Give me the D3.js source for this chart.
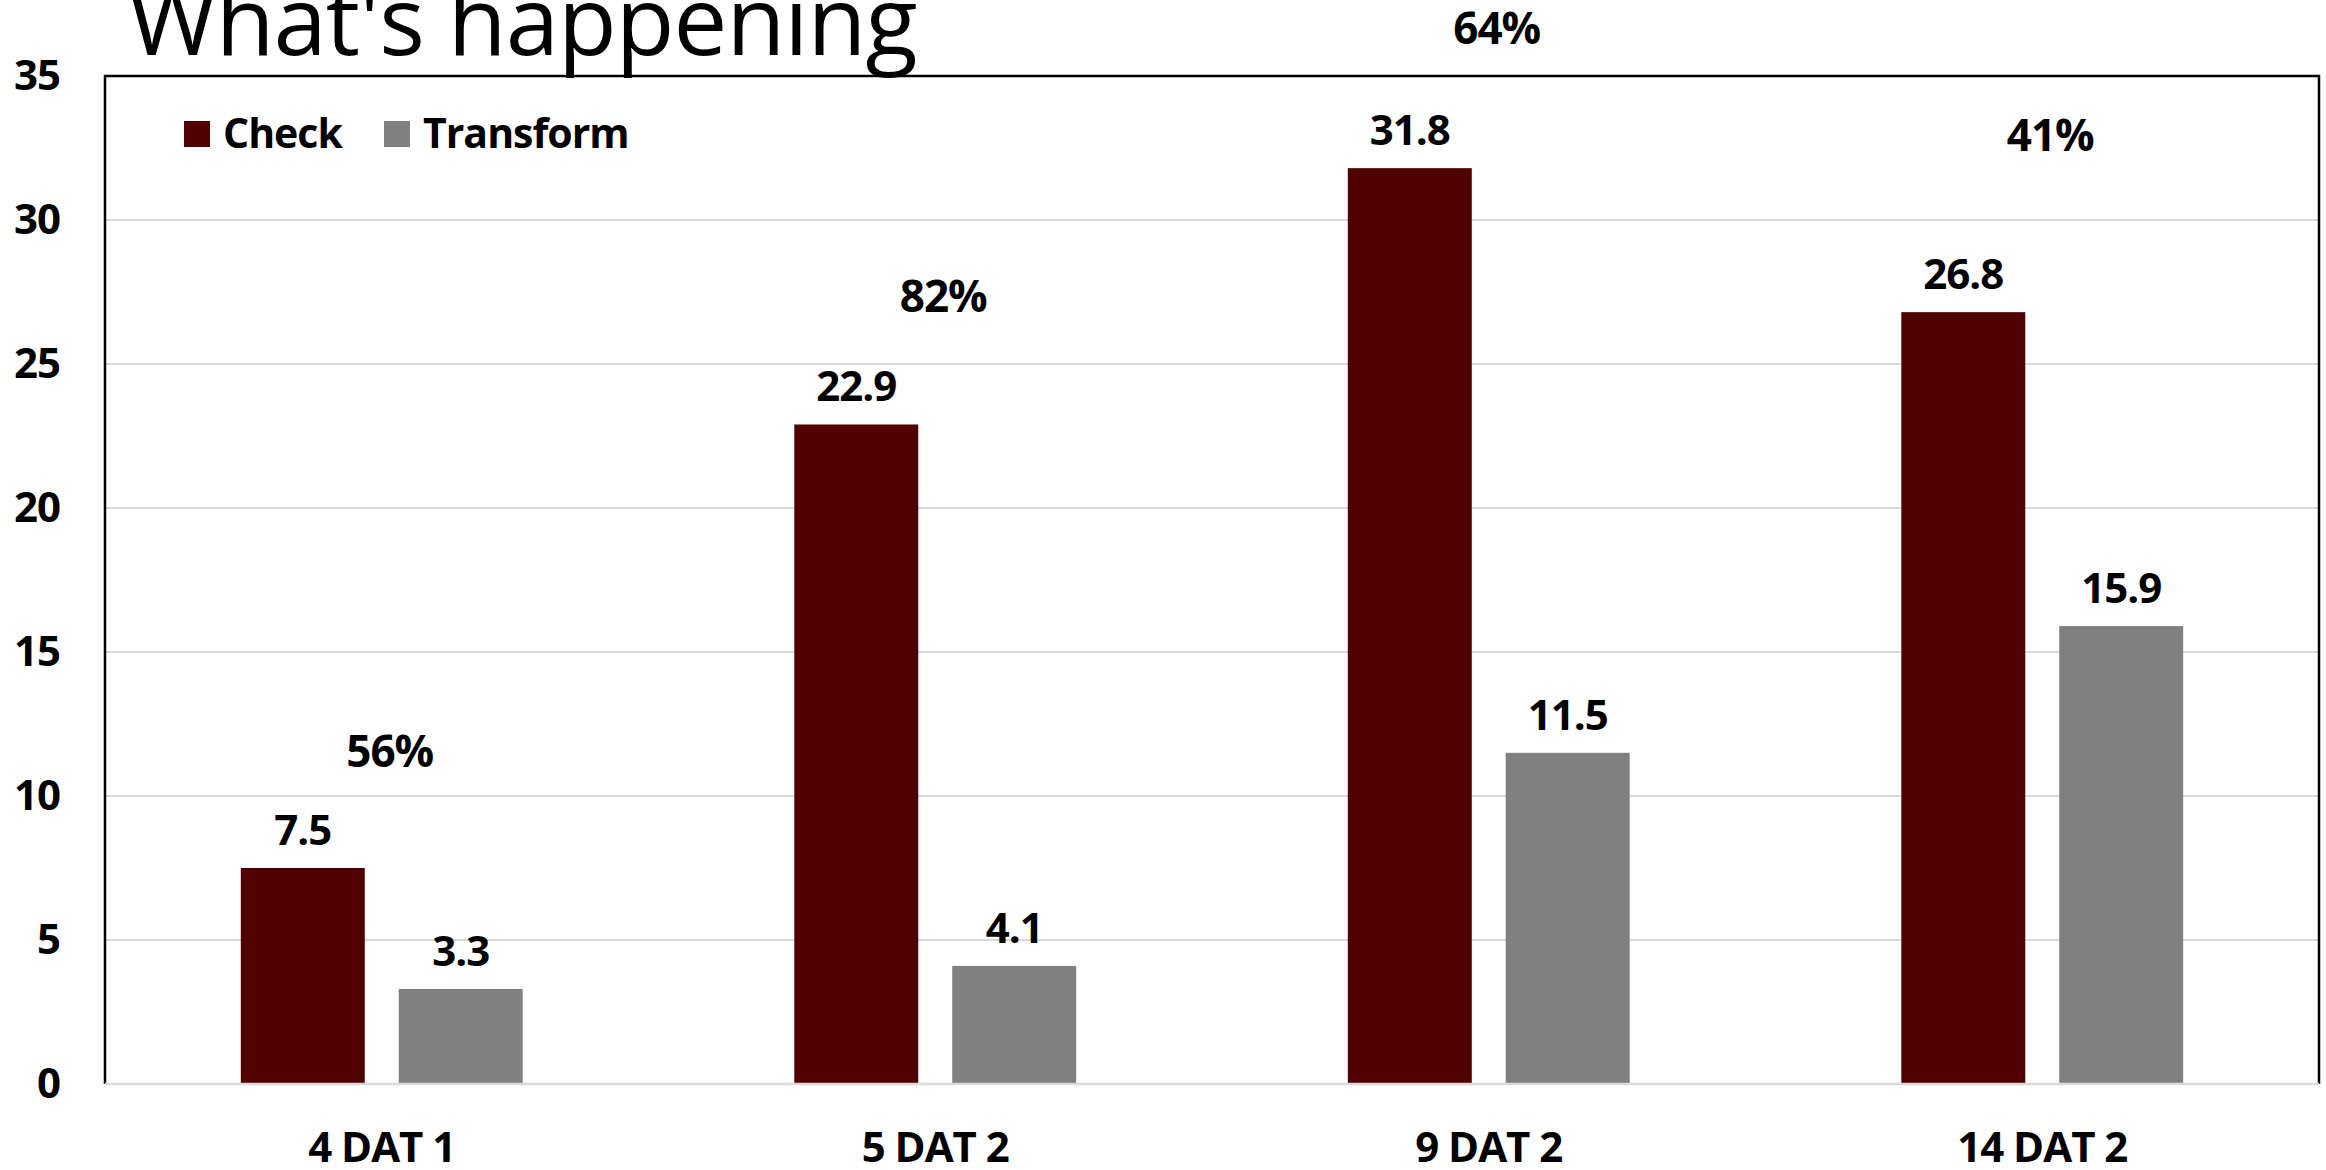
<!DOCTYPE html>
<html>
<head>
<meta charset="utf-8">
<script src="https://cdn.jsdelivr.net/npm/d3@7"></script>
<style>
  html, body { margin: 0; padding: 0; background: #ffffff; }
  svg { display: block; }
  text { font-family: "Open Sans", "Noto Sans", sans-serif; fill: #000; }
</style>
</head>
<body>
<svg id="chart" width="2326" height="1170"></svg>
<script>
// ---- data ----
const categories = ["4 DAT 1", "5 DAT 2", "9 DAT 2", "14 DAT 2"];
const seriesNames = ["Check", "Transform"];
const checkValues = [7.5, 22.9, 31.8, 26.8];
const transformValues = [3.3, 4.1, 11.5, 15.9];
const pctLabels = ["56%", "82%", "64%", "41%"];
const pctLabelAt = [11.0, 26.8, 36.1, 32.4]; // value level where each annotation sits
const yTicks = [0, 5, 10, 15, 20, 25, 30, 35];
const titleText = "What's happening";

// ---- layout ----
const svg = d3.select("#chart");
const plot = { left: 105, right: 2319, top: 76, bottom: 1084 };
const colors = { Check: "#510000", Transform: "#808080" };

const x0 = d3.scaleBand().domain(categories).range([plot.left, plot.right]).paddingInner(0).paddingOuter(0);
const x1 = d3.scaleBand().domain(seriesNames).range([0, x0.bandwidth()]).paddingInner(0.215).paddingOuter(0.86);
const y = d3.scaleLinear().domain([0, 35]).range([plot.bottom, plot.top]);

const rows = categories.map((c, i) => ({
  cat: c,
  values: [
    { key: "Check", value: checkValues[i] },
    { key: "Transform", value: transformValues[i] }
  ],
  pct: pctLabels[i],
  pctAt: pctLabelAt[i]
}));

// gridlines
svg.append("g")
  .selectAll("line")
  .data(yTicks.filter(t => t > 0 && t < 35))
  .join("line")
  .attr("x1", plot.left).attr("x2", plot.right)
  .attr("y1", d => y(d)).attr("y2", d => y(d))
  .attr("stroke", "#d9d9d9").attr("stroke-width", 2);

// frame (top, left, right black)
svg.append("path")
  .attr("d", `M${plot.left},${plot.bottom} V${plot.top} H${plot.right} V${plot.bottom}`)
  .attr("fill", "none").attr("stroke", "#000").attr("stroke-width", 2.5);

// bars
const groups = svg.append("g").selectAll("g")
  .data(rows).join("g")
  .attr("transform", d => `translate(${x0(d.cat)},0)`);

groups.selectAll("rect")
  .data(d => d.values).join("rect")
  .attr("x", d => x1(d.key))
  .attr("width", x1.bandwidth())
  .attr("y", d => y(d.value))
  .attr("height", d => y(0) - y(d.value))
  .attr("fill", d => colors[d.key]);

// value labels
groups.selectAll("text.val")
  .data(d => d.values).join("text")
  .attr("class", "val")
  .attr("x", d => x1(d.key) + x1.bandwidth() / 2)
  .attr("y", d => y(d.value) - 23)
  .attr("text-anchor", "middle")
  .attr("font-size", 42).attr("font-weight", 700)
  .attr("letter-spacing", -1)
  .text(d => d.value.toFixed(1));

// percent annotations
groups.append("text")
  .attr("x", x0.bandwidth() / 2 + 8)
  .attr("y", d => y(d.pctAt))
  .attr("text-anchor", "middle")
  .attr("font-size", 44).attr("font-weight", 700)
  .attr("letter-spacing", -1)
  .text(d => d.pct);

// x axis line (gray)
svg.append("line")
  .attr("x1", plot.left).attr("x2", plot.right)
  .attr("y1", y(0)).attr("y2", y(0))
  .attr("stroke", "#d9d9d9").attr("stroke-width", 2.5);

// y axis labels
const yAxis = svg.append("g")
  .attr("transform", `translate(${plot.left},0)`)
  .call(d3.axisLeft(y).tickValues(yTicks).tickSize(0).tickPadding(45));
yAxis.select(".domain").remove();
yAxis.selectAll("text")
  .attr("font-size", 42).attr("font-weight", 700)
  .attr("font-family", "'Open Sans', sans-serif")
  .attr("letter-spacing", -1)
  .attr("fill", "#000");

// x axis labels
const xAxis = svg.append("g")
  .attr("transform", `translate(0,${plot.bottom})`)
  .call(d3.axisBottom(x0).tickSize(0));
xAxis.select(".domain").remove();
xAxis.selectAll("text")
  .attr("y", 78).attr("dy", null)
  .attr("font-size", 42).attr("font-weight", 700)
  .attr("font-family", "'Open Sans', sans-serif")
  .attr("letter-spacing", -1)
  .attr("fill", "#000");

// legend
const legend = svg.append("g");
const legendX = [184, 384];
seriesNames.forEach((s, i) => {
  legend.append("rect")
    .attr("x", legendX[i]).attr("y", 121)
    .attr("width", 26).attr("height", 26)
    .attr("fill", colors[s]);
  legend.append("text")
    .attr("x", legendX[i] + 39).attr("y", 148)
    .attr("font-size", 41).attr("font-weight", 700)
    .attr("letter-spacing", -1)
    .text(s);
});

// title (partially cut at top edge, as in the reference)
svg.append("text")
  .attr("x", 128).attr("y", 55)
  .attr("font-size", 96).attr("font-weight", 400)
  .attr("letter-spacing", -1)
  .text(titleText);
</script>
</body>
</html>
